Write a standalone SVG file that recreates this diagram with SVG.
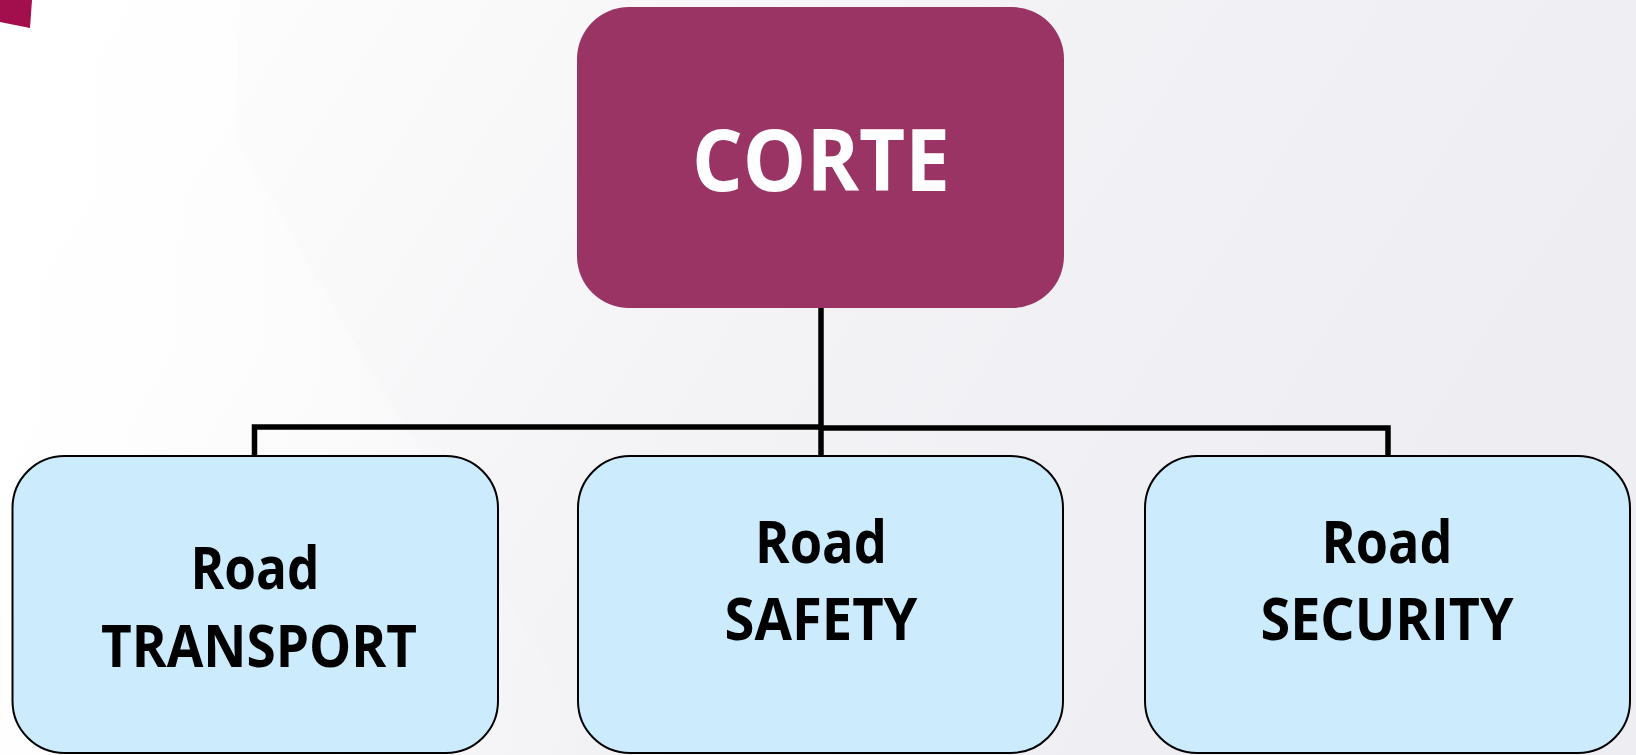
<svg xmlns="http://www.w3.org/2000/svg" width="1636" height="755" viewBox="0 0 1636 755">
<defs>
<linearGradient id="bg" x1="0" y1="0" x2="1" y2="0.3">
<stop offset="0" stop-color="#FFFFFF"/>
<stop offset="0.3" stop-color="#F9F9FA"/>
<stop offset="0.55" stop-color="#F3F3F6"/>
<stop offset="1" stop-color="#EEEDF2"/>
</linearGradient>
<linearGradient id="sheen" x1="0" y1="0" x2="1" y2="0">
<stop offset="0" stop-color="#FFFFFF" stop-opacity="0.9"/>
<stop offset="1" stop-color="#FFFFFF" stop-opacity="0"/>
</linearGradient>
</defs>
<style>
.child{fill:#CCEBFC;stroke:#000;stroke-width:2}
.lbl{font-family:"Open Sans","Liberation Sans",sans-serif;font-weight:bold;fill:#000;text-anchor:middle}
.conn{fill:none;stroke:#000;stroke-width:5.5;stroke-linejoin:miter}
</style>
<rect x="0" y="0" width="1636" height="755" fill="url(#bg)"/>
<polygon points="0,0 240,0 235,140 600,755 0,755" fill="url(#sheen)"/>
<polygon points="0,0 32,0 30,28 0,22" fill="#A20F4C"/>
<g id="connectors">
<path class="conn" d="M821 308 V456"/>
<path class="conn" d="M254.5 456 V427 H821"/>
<path class="conn" d="M821 428 H1388 V456"/>
</g>
<g id="corte">
<rect x="577" y="7" width="487" height="301" rx="52" ry="52" fill="#993465"/>
<text x="821" y="191" font-family="'Open Sans','Liberation Sans',sans-serif" font-weight="bold" font-size="86" fill="#FFFFFF" text-anchor="middle" textLength="258" lengthAdjust="spacingAndGlyphs">CORTE</text>
</g>
<g id="transport">
<rect class="child" x="12.5" y="456" width="485.5" height="297" rx="52" ry="52"/>
<text class="lbl" x="255" y="589" font-size="59" textLength="129" lengthAdjust="spacingAndGlyphs">Road</text>
<text class="lbl" x="259" y="667" font-size="59" textLength="316" lengthAdjust="spacingAndGlyphs">TRANSPORT</text>
</g>
<g id="safety">
<rect class="child" x="578" y="456" width="485" height="297" rx="52" ry="52"/>
<text class="lbl" x="821" y="563" font-size="59" textLength="132" lengthAdjust="spacingAndGlyphs">Road</text>
<text class="lbl" x="821" y="640" font-size="59" textLength="193" lengthAdjust="spacingAndGlyphs">SAFETY</text>
</g>
<g id="security">
<rect class="child" x="1145" y="456" width="485" height="297" rx="52" ry="52"/>
<text class="lbl" x="1387" y="563" font-size="59" textLength="131" lengthAdjust="spacingAndGlyphs">Road</text>
<text class="lbl" x="1387" y="640" font-size="59" textLength="253" lengthAdjust="spacingAndGlyphs">SECURITY</text>
</g>
</svg>
